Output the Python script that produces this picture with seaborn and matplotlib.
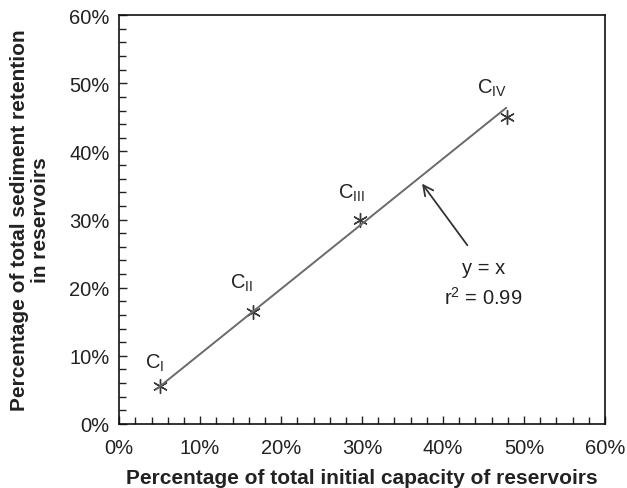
import matplotlib
matplotlib.use("Agg")
import matplotlib.pyplot as plt
import seaborn as sns
import pandas as pd
import numpy as np
from matplotlib.ticker import MultipleLocator, PercentFormatter

# Data (percent units)
labels = ["C$_{\\mathregular{I}}$", "C$_{\\mathregular{II}}$", "C$_{\\mathregular{III}}$", "C$_{\\mathregular{IV}}$"]
capacity = [5.1, 16.5, 29.7, 47.9]
retention = [5.5, 16.5, 30.0, 45.0]
label_x = [4.4, 15.1, 28.7, 46.0]
label_y = [9.1, 20.8, 34.0, 49.4]

# fitted line endpoints
line_x = [4.6, 47.8]
line_y = [5.1, 46.4]

sns.set_style("ticks")
plt.rcParams['font.family'] = ['Liberation Sans', 'DejaVu Sans']
plt.rcParams['mathtext.fontset'] = 'custom'
plt.rcParams['mathtext.rm'] = 'Liberation Sans'

fig, ax = plt.subplots(figsize=(6.27, 4.89), dpi=100)
fig.subplots_adjust(left=0.19, right=0.965, top=0.967, bottom=0.131)

df = pd.DataFrame({"x": capacity, "y": retention})
line_df = pd.DataFrame({"x": line_x, "y": line_y})

sns.lineplot(data=line_df, x="x", y="y", ax=ax, color="#6a6a6a", linewidth=1.4)
sns.scatterplot(data=df, x="x", y="y", ax=ax, marker=(6, 2, 0), s=100,
                color="#3a3a3a", linewidth=1.0, edgecolor="#3a3a3a")

for lab, lx, ly in zip(labels, label_x, label_y):
    ax.text(lx, ly, lab, ha="center", va="center", fontsize=14.5, color="#222222")

ax.annotate("", xy=(37.2, 35.6), xytext=(43.2, 25.9),
            arrowprops=dict(arrowstyle="->", color="#333333", lw=1.3,
                            mutation_scale=18))
ax.text(45.0, 23.0, "y = x", ha="center", va="center", fontsize=14.5, color="#222222")
ax.text(45.0, 18.7, "r$^{\\mathregular{2}}$ = 0.99", ha="center", va="center",
        fontsize=14.5, color="#222222")

ax.set_xlim(0, 60)
ax.set_ylim(0, 60)
ax.xaxis.set_major_locator(MultipleLocator(10))
ax.yaxis.set_major_locator(MultipleLocator(10))
ax.xaxis.set_minor_locator(MultipleLocator(2))
ax.yaxis.set_minor_locator(MultipleLocator(2))
ax.xaxis.set_major_formatter(PercentFormatter(decimals=0))
ax.yaxis.set_major_formatter(PercentFormatter(decimals=0))
ax.tick_params(which="both", direction="in", top=False, right=False,
               color="#222222", labelsize=14.5, labelcolor="#222222")
ax.tick_params(which="major", length=6, width=1, pad=7)
ax.tick_params(axis="x", which="major", pad=10)
ax.tick_params(which="minor", length=5, width=1)
for sp in ax.spines.values():
    sp.set_linewidth(1.2)
    sp.set_color("#111111")

ax.set_xlabel("Percentage of total initial capacity of reservoirs",
              fontsize=15, fontweight="bold", labelpad=8, color="#222222")
ax.set_ylabel("Percentage of total sediment retention\nin reservoirs",
              fontsize=15, fontweight="bold", labelpad=14, color="#222222",
              linespacing=1.1)

plt.savefig("out.png", dpi=100)
